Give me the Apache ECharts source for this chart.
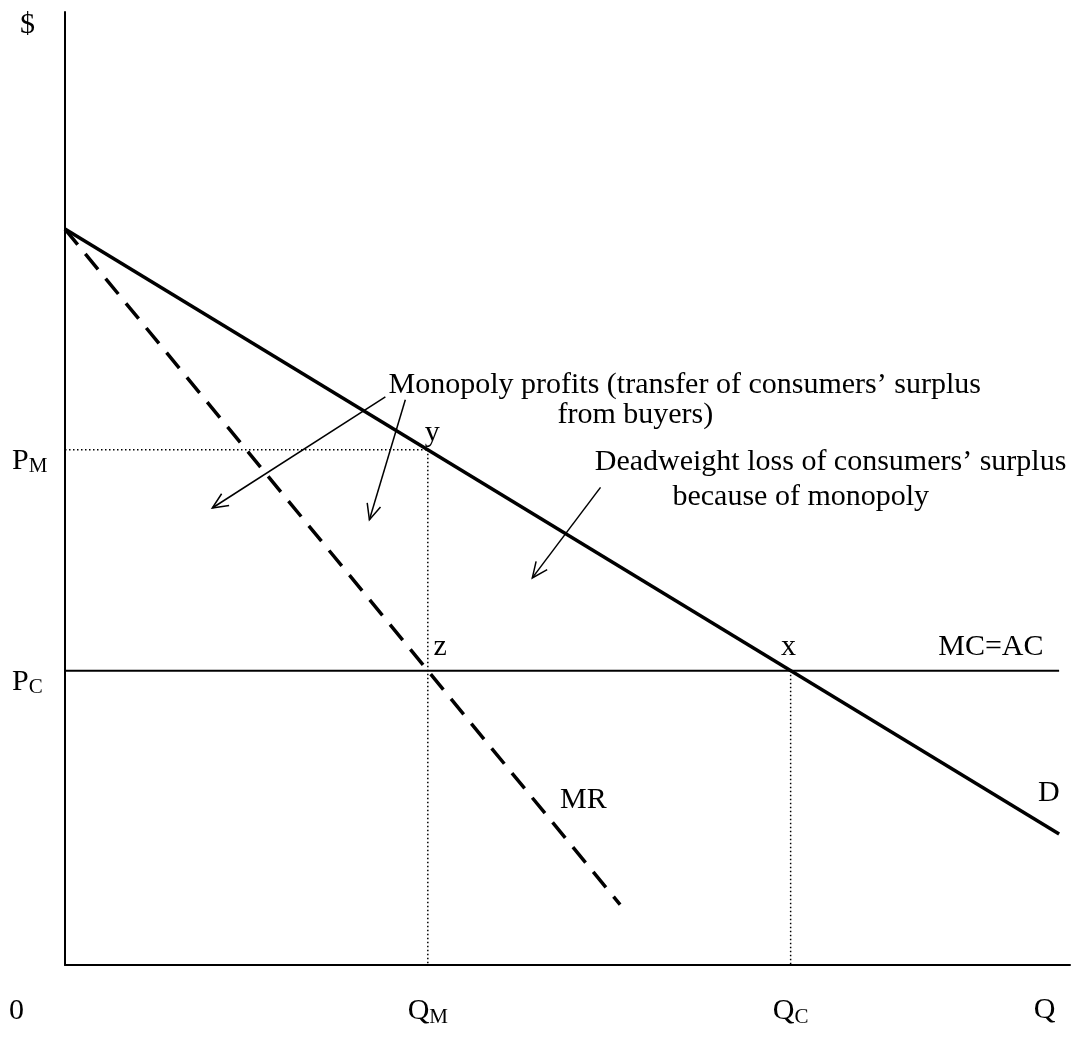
<!DOCTYPE html>
<html>
<head>
<meta charset="utf-8">
<script src="https://cdn.jsdelivr.net/npm/echarts@6/dist/echarts.min.js"></script>
<style>
html,body{margin:0;padding:0;background:#fff;}
#chart{width:1086px;height:1038px;}
</style>
</head>
<body>
<div id="chart"></div>
<script>
// ---- data ----
const priceTickValues = [40, 70];
const priceTickLabels = [['P', 'C'], ['P', 'M']];
const quantityTickValues = [10, 20, 27];
const quantityTickLabels = [['Q', 'M'], ['Q', 'C'], ['Q', '']];
const demandLine = [[0, 100], [27.4, 17.8]];
const mrLine = [[0, 100], [15.3, 8.2]];
const mcLine = [[0, 40], [27.4, 40]];
const pmGuide = [[0, 70], [10, 70]];
const qmGuide = [[10, 70], [10, 0]];
const qcGuide = [[20, 40], [20, 0]];
const arrows = [
  [8.83, 77.2, 4.06, 62.1],
  [9.38, 76.8, 8.39, 60.5],
  [14.76, 64.9, 12.88, 52.6]
];
const annotationTexts = [
  'y', 'z', 'x', 'MC=AC', 'MR', 'D',
  'Monopoly profits (transfer of consumers\u2019 surplus',
  'from buyers)',
  'Deadweight loss of consumers\u2019 surplus',
  'because of monopoly'
];
const annotationPoints = [
  [10.12, 72.3], [10.34, 43.2], [19.94, 43.2], [25.52, 43.2], [14.29, 22.4], [27.12, 23.4],
  [17.08, 78.8], [15.72, 74.7], [21.1, 68.3], [20.28, 63.6]
];

const FONT = 'Liberation Serif';
const FS = 30;
const richSub = {
  a: { fontFamily: FONT, fontSize: FS, color: '#000' },
  b: { fontFamily: FONT, fontSize: 21, color: '#000', padding: [12, 0, 0, 0] }
};

const chart = echarts.init(document.getElementById('chart'));

function lineSeries(data, width, type) {
  return {
    type: 'line', data: data, symbol: 'none', silent: true, animation: false,
    lineStyle: { color: '#000', width: width, type: type }
  };
}

chart.setOption({
  backgroundColor: '#fff',
  animation: false,
  grid: { left: 65, right: 16, top: 12, bottom: 73 },
  xAxis: {
    type: 'value', min: 0, max: 27.7,
    axisLine: { show: true, lineStyle: { color: '#000', width: 2 } },
    axisTick: { show: false }, splitLine: { show: false },
    axisLabel: {
      customValues: quantityTickValues, margin: 30,
      formatter: function (v) {
        const i = quantityTickValues.indexOf(v);
        const l = quantityTickLabels[i];
        return '{a|' + l[0] + '}' + (l[1] ? '{b|' + l[1] + '}' : '');
      },
      rich: richSub
    }
  },
  yAxis: {
    type: 'value', min: 0, max: 129.5,
    axisLine: { show: true, lineStyle: { color: '#000', width: 2 } },
    axisTick: { show: false }, splitLine: { show: false },
    axisLabel: {
      customValues: priceTickValues, margin: 53, align: 'left',
      padding: [22, 0, 0, 0],
      formatter: function (v) {
        const i = priceTickValues.indexOf(v);
        const l = priceTickLabels[i];
        return '{a|' + l[0] + '}{b|' + l[1] + '}';
      },
      rich: richSub
    }
  },
  graphic: [
    { type: 'text', left: 20, top: 10, style: { text: '$', fontFamily: FONT, fontSize: FS, fill: '#000' } },
    { type: 'text', left: 9, top: 996, style: { text: '0', fontFamily: FONT, fontSize: FS, fill: '#000' } }
  ],
  series: [
    lineSeries(pmGuide, 1.5, [1.5, 2.5]),
    lineSeries(qmGuide, 1.5, [1.5, 2.5]),
    lineSeries(qcGuide, 1.5, [1.5, 2.5]),
    lineSeries(mcLine, 2, 'solid'),
    lineSeries(demandLine, 3.5, 'solid'),
    lineSeries(mrLine, 3.5, [20, 12]),
    {
      type: 'custom', silent: true, animation: false,
      data: arrows,
      encode: { x: [0, 2], y: [1, 3] },
      renderItem: function (params, api) {
        const p1 = api.coord([api.value(0), api.value(1)]);
        const p2 = api.coord([api.value(2), api.value(3)]);
        const ang = Math.atan2(p2[1] - p1[1], p2[0] - p1[0]);
        const L = 17, h = 0.42;
        const a1 = [p2[0] - L * Math.cos(ang - h), p2[1] - L * Math.sin(ang - h)];
        const a2 = [p2[0] - L * Math.cos(ang + h), p2[1] - L * Math.sin(ang + h)];
        const st = { stroke: '#000', lineWidth: 1.5, fill: null };
        return {
          type: 'group',
          children: [
            { type: 'line', shape: { x1: p1[0], y1: p1[1], x2: p2[0], y2: p2[1] }, style: st },
            { type: 'polyline', shape: { points: [a1, p2, a2] }, style: st }
          ]
        };
      }
    },
    {
      type: 'scatter', silent: true, animation: false, symbolSize: 0,
      itemStyle: { opacity: 1 },
      data: annotationPoints.map(function (p, i) { return { value: p, name: annotationTexts[i] }; }),
      label: {
        show: true, position: 'inside', formatter: '{b}', opacity: 1,
        fontFamily: FONT, fontSize: FS, color: '#000',
        textBorderWidth: 0, textBorderColor: 'transparent'
      }
    }
  ]
});
</script>
</body>
</html>
